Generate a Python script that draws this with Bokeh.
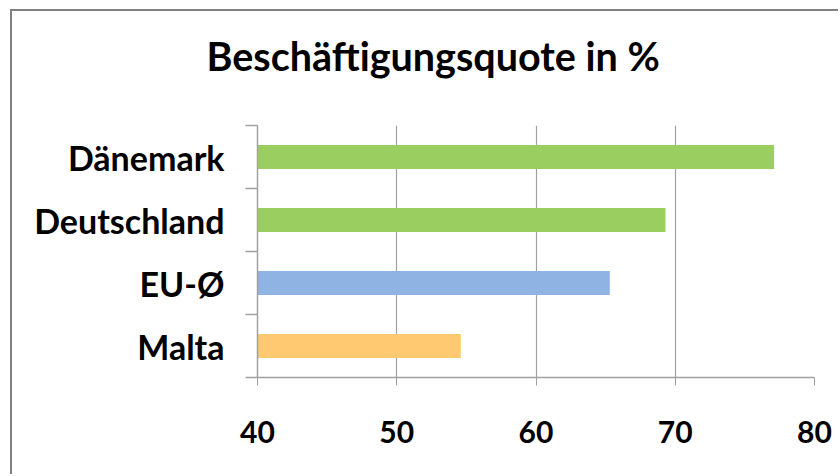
from bokeh.plotting import figure
from bokeh.models import Range1d, FixedTicker, Title
from bokeh.embed import file_html
from bokeh.resources import INLINE
import numpy as np

# Data (top to bottom as shown)
categories = ["Dänemark", "Deutschland", "EU-Ø", "Malta"]
values = [77.1, 69.3, 65.3, 54.6]
bar_colors = ["#9BCE61", "#9BCE61", "#8FB3E2", "#FEC970"]
x_ticks = [40, 50, 60, 70, 80]
title_text = "Beschäftigungsquote in %"

n = len(categories)
ypos = (n - 1 - np.arange(n)) + 0.5  # category centers, first on top

FONT = "Lato"
GRID = "#A0A0A0"

p = figure(width=828, height=465, output_backend="svg", toolbar_location=None,
           x_range=Range1d(40, 80), y_range=Range1d(0, n),
           min_border_left=245, min_border_right=26, min_border_top=114, min_border_bottom=99,
           styles={"border-left": "2px solid #808080", "border-top": "2px solid #808080",
                   "margin-left": "10px", "margin-top": "9px"})
p.title = None
p.outline_line_color = None
p.background_fill_color = "white"
p.border_fill_color = "white"

p.hbar(y=ypos, left=40, right=values, height=0.38, fill_color=bar_colors, line_color=None)

# spacer between frame and title, then the title itself
spacer = Title(text=" ", text_font_size="1px", standoff=44)
p.add_layout(spacer, "above")
main_title = Title(text=title_text, text_font=FONT, text_font_style="bold",
                   text_font_size="39.5px", text_color="black",
                   align="left", offset=-51, standoff=0)
p.add_layout(main_title, "above")

# x axis
p.xaxis.ticker = FixedTicker(ticks=x_ticks)
p.xaxis.axis_line_color = GRID
p.xaxis.axis_line_width = 1.5
p.xaxis.major_tick_line_color = GRID
p.xaxis.major_tick_out = 8
p.xaxis.major_tick_in = 0
p.xaxis.minor_tick_line_color = None
p.xaxis.major_label_text_font = FONT
p.xaxis.major_label_text_font_style = "bold"
p.xaxis.major_label_text_font_size = "30px"
p.xaxis.major_label_text_color = "black"
p.xaxis.major_label_standoff = 35

# y axis
p.yaxis.ticker = FixedTicker(ticks=list(ypos), minor_ticks=list(range(n + 1)))
p.yaxis.major_label_overrides = {float(y): c for y, c in zip(ypos, categories)}
p.yaxis.axis_line_color = GRID
p.yaxis.axis_line_width = 1.5
p.yaxis.major_tick_line_color = None
p.yaxis.major_tick_out = 0
p.yaxis.major_tick_in = 0
p.yaxis.minor_tick_line_color = GRID
p.yaxis.minor_tick_line_width = 1.5
p.yaxis.minor_tick_out = 12
p.yaxis.minor_tick_in = 0
p.yaxis.major_label_text_font = FONT
p.yaxis.major_label_text_font_style = "bold"
p.yaxis.major_label_text_font_size = "34px"
p.yaxis.major_label_text_color = "black"
p.yaxis.major_label_standoff = 21

p.xgrid.ticker = FixedTicker(ticks=x_ticks)
p.xgrid.grid_line_color = GRID
p.xgrid.grid_line_width = 1.2
p.ygrid.grid_line_color = None

open("out.html", "w").write(file_html(p, INLINE))
